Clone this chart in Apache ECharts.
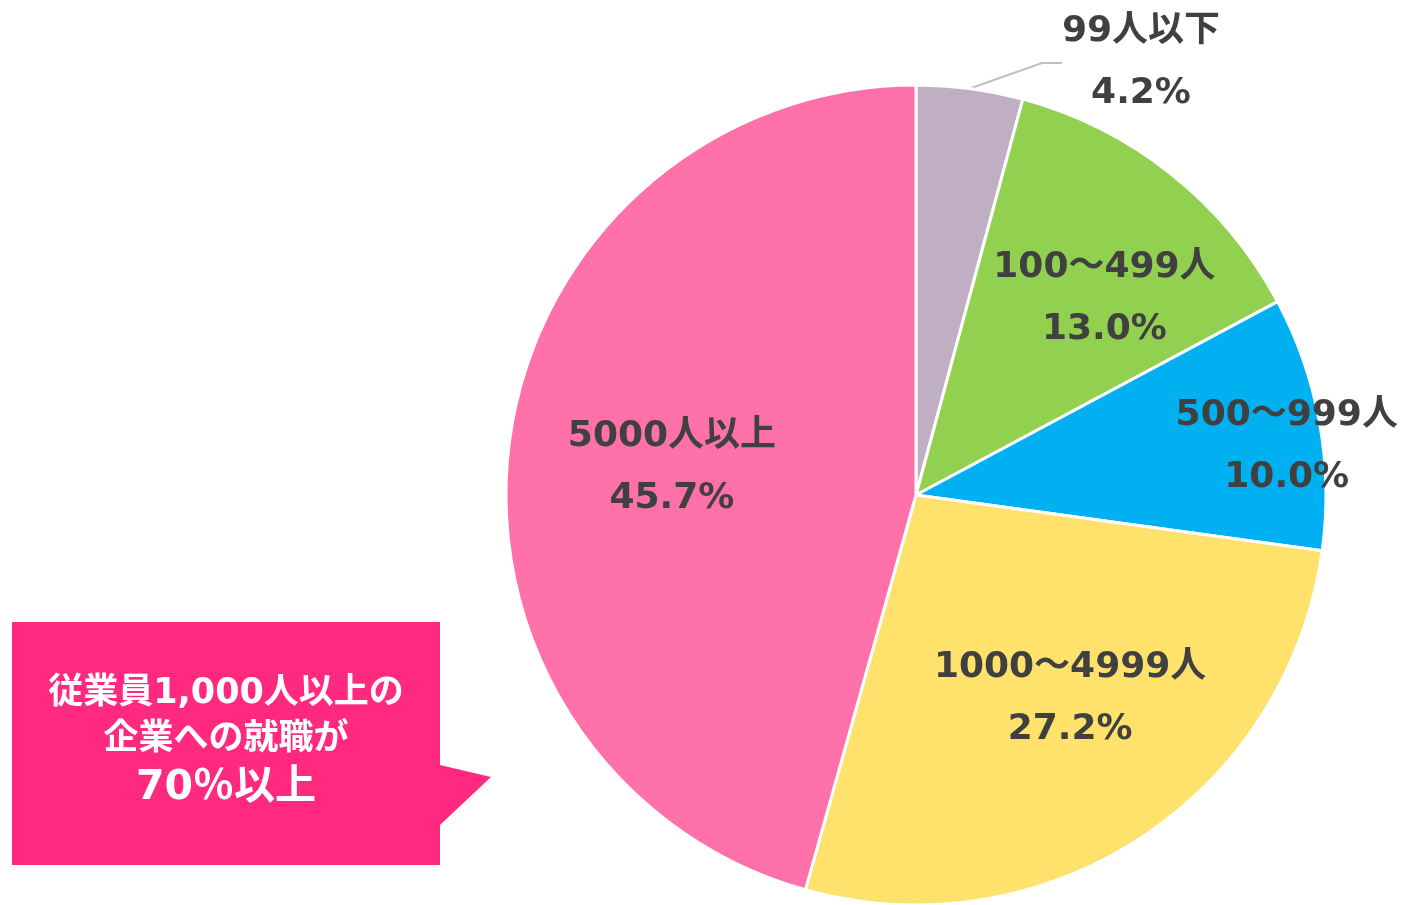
<!DOCTYPE html>
<html>
<head>
<meta charset="utf-8">
<script src="https://cdn.jsdelivr.net/npm/echarts@6/dist/echarts.min.js"></script>
<style>
  html, body { margin: 0; padding: 0; background: #fff; }
  #chart { width: 1402px; height: 905px; }
</style>
</head>
<body>
<div id="chart"></div>
<script>
// 従業員規模別 就職先の割合
var categories = ['99人以下', '100～499人', '500～999人', '1000～4999人', '5000人以上'];
var shares = [4.2, 13.0, 10.0, 27.2, 45.7];
var sliceColors = ['#C0AEC3', '#92D050', '#00B0F0', '#FFE26B', '#FF71A8'];
var calloutLines = ['従業員1,000人以上の', '企業への就職が', '70％以上'];

var FONT = '"DejaVu Sans", "Noto Sans CJK JP", sans-serif';

// ラベルのずらし量 (inside の既定位置から)
var labelShift = [null, [59, -34], [166, -12], [40, 30], [-38, 1]];

var chart = echarts.init(document.getElementById('chart'));

var pieData = categories.map(function (name, i) {
  var item = {
    name: name,
    value: shares[i],
    itemStyle: { color: sliceColors[i] }
  };
  if (i === 0) {
    item.label = { position: 'outside' };
    item.labelLine = { show: true, length: 30, length2: 20 };
  }
  return item;
});

var option = {
  backgroundColor: '#fff',
  animation: false,
  series: [{
    type: 'pie',
    center: [916, 495],
    radius: 410,
    startAngle: 90,
    clockwise: true,
    itemStyle: { borderColor: '#fff', borderWidth: 3 },
    label: {
      show: true,
      position: 'inside',
      color: '#404040',
      fontFamily: FONT,
      fontWeight: 'bold',
      fontSize: 36,
      lineHeight: 62,
      formatter: function (p) {
        return p.name + '\n' + p.value.toFixed(1) + '%';
      }
    },
    labelLine: {
      show: false,
      lineStyle: { color: '#BFBFBF', width: 2 }
    },
    labelLayout: function (params) {
      if (params.dataIndex === 0) {
        return { x: 1141, y: 63, align: 'center', verticalAlign: 'middle' };
      }
      var s = labelShift[params.dataIndex];
      return { dx: s[0], dy: s[1] };
    },
    data: pieData
  }],
  graphic: [{
    type: 'polygon',
    shape: {
      points: [[12, 622], [440, 622], [440, 765], [491, 777], [440, 825], [440, 865], [12, 865]]
    },
    style: { fill: '#FF2A7F' }
  }, {
    type: 'text',
    x: 226, y: 694,
    style: {
      text: calloutLines[0], fill: '#fff', font: 'bold 35px ' + FONT,
      align: 'center', verticalAlign: 'middle'
    }
  }, {
    type: 'text',
    x: 226, y: 740,
    style: {
      text: calloutLines[1], fill: '#fff', font: 'bold 35px ' + FONT,
      align: 'center', verticalAlign: 'middle'
    }
  }, {
    type: 'text',
    x: 226, y: 788,
    style: {
      text: calloutLines[2], fill: '#fff', font: 'bold 41px ' + FONT,
      align: 'center', verticalAlign: 'middle'
    }
  }]
};

chart.setOption(option);
</script>
</body>
</html>
